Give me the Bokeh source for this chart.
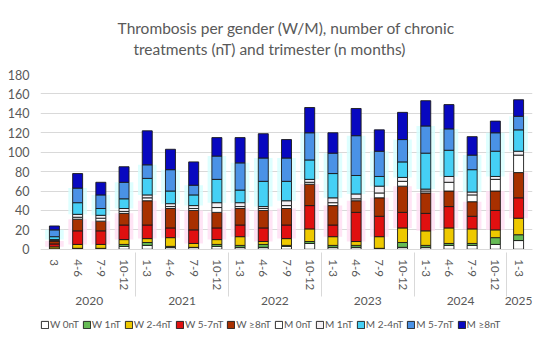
from bokeh.plotting import figure
from bokeh.models import FactorRange, Title, Legend, LegendItem, ColumnDataSource, FixedTicker
from bokeh.embed import file_html
from bokeh.resources import INLINE

years = ["2020"] * 4 + ["2021"] * 4 + ["2022"] * 4 + ["2023"] * 4 + ["2024"] * 4 + ["2025"]
quarters = ["3", "4-6", "7-9", "10-12",
            "1-3", "4-6", "7-9", "10-12",
            "1-3", "4-6", "7-9", "10-12",
            "1-3", "4-6", "7-9", "10-12",
            "1-3", "4-6", "7-9", "10-12",
            "1-3"]
y_ticks = [0, 20, 40, 60, 80, 100, 120, 140, 160, 180]

series_labels = ["W 0nT", "W 1nT", "W 2-4nT", "W 5-7nT", "W \u22658nT",
                 "M 0nT", "M 1nT", "M 2-4nT", "M 5-7nT", "M \u22658nT"]
series_keys = ["w0", "w1", "w24", "w57", "w8", "m0", "m1", "m24", "m57", "m8"]

w0 = [0.5, 1, 1, 3, 4, 2, 2, 3, 2, 2, 3, 6, 2, 2, 1, 2, 2, 4, 4, 5, 9]
w1 = [0, 0, 0, 2, 3, 1, 0, 2, 2, 3, 1, 2, 2, 2, 0, 5, 2, 2, 2, 7, 6]
w24 = [2, 4, 4, 5, 4, 9, 4, 5, 9, 3, 7, 13, 9, 4, 12, 15, 15, 16, 15, 8, 17]
w57 = [3, 14, 14, 15, 14, 10, 14, 12, 12, 14, 14, 24, 12, 30, 21, 16, 18, 22, 13, 20, 21]
w8 = [3, 12, 10, 12, 25, 20, 20, 16, 17, 18, 17, 22, 20, 12, 19, 27, 21, 16, 15, 20, 26]
m0 = [0.5, 2, 3, 2, 3, 2, 2, 5, 2, 2, 3, 2, 3, 2, 5, 5, 2, 9, 7, 12, 18]
m1 = [1, 3, 3, 3, 3, 3, 3, 5, 4, 2, 5, 3, 5, 5, 7, 4, 2, 6, 3, 3, 4]
m24 = [3, 12, 7, 10, 17, 13, 11, 24, 13, 26, 20, 20, 25, 19, 10, 16, 37, 27, 23, 26, 22]
m57 = [7, 15, 14, 17, 14, 22, 10, 24, 28, 24, 24, 28, 21, 41, 26, 23, 28, 22, 15, 19, 14]
m8 = [4, 15, 13, 16, 35, 21, 24, 19, 26, 25, 19, 26, 21, 28, 22, 28, 26, 25, 19, 12, 17]

colors = ["#FFFFFF", "#66BB55", "#EEC900", "#E01010", "#A83000",
          "#FFFFFF", "#F4F0F4", "#45D0F5", "#4A92E6", "#0808C0"]

factors = list(zip(years, quarters))
data = dict(x=factors, w0=w0, w1=w1, w24=w24, w57=w57, w8=w8,
            m0=m0, m1=m1, m24=m24, m57=m57, m8=m8)
n = len(factors)
wlow = [w0[i] + w1[i] + w24[i] for i in range(n)]
whigh = [wlow[i] + w57[i] + w8[i] for i in range(n)]
mlow = [whigh[i] + m0[i] + m1[i] for i in range(n)]
mhigh = [mlow[i] + m24[i] + m57[i] for i in range(n)]
data.update(wlow=wlow, whigh=whigh, mlow=mlow, mhigh=mhigh)
source = ColumnDataSource(data=data)

FONT = "Lato"
GREY = "#595959"

# frame extends below zero so that the category axis and legend sit inside it
p = figure(x_range=FactorRange(*factors, factor_padding=0, group_padding=0, subgroup_padding=0,
                               range_padding=0.1, range_padding_units="absolute"),
           y_range=(-92.9, 180), frame_width=492, frame_height=265,
           output_backend="svg", toolbar_location=None,
           min_border_left=40, min_border_right=16, min_border_top=73, min_border_bottom=6)
p.outline_line_color = None
p.background_fill_color = "white"
p.border_fill_color = "white"

# glow effects
p.vbar(x="x", bottom="wlow", top="whigh", width=0.8, source=source,
       fill_color="#FFDDF3", line_color=None, fill_alpha=0.8)
p.vbar(x="x", bottom="mlow", top="mhigh", width=0.8, source=source,
       fill_color="#D6FFFF", line_color=None, fill_alpha=0.8)

renderers = p.vbar_stack(series_keys, x="x", width=0.43, source=source,
                         fill_color=colors, line_color="#1A1A1A", line_width=0.9)

# y axis
p.yaxis.ticker = FixedTicker(ticks=y_ticks)
p.yaxis.axis_line_color = None
p.yaxis.major_tick_line_color = None
p.yaxis.minor_tick_line_color = None
p.yaxis.major_label_text_font = FONT
p.yaxis.major_label_text_font_size = "12.5px"
p.yaxis.major_label_text_color = GREY
p.yaxis.major_label_standoff = 5
p.ygrid.grid_line_color = "#D9D9D9"
p.xgrid.grid_line_color = None

# x axis (at y = 0)
p.xaxis.fixed_location = 0
p.xaxis.axis_line_color = "#D9D9D9"
p.xaxis.major_tick_line_color = None
p.xaxis.minor_tick_line_color = None
p.xaxis.major_label_orientation = "vertical"
p.xaxis.major_label_standoff = 4
p.xaxis.major_label_text_font = FONT
p.xaxis.major_label_text_font_size = "11.5px"
p.xaxis.major_label_text_color = GREY
p.xaxis.group_text_font = FONT
p.xaxis.group_text_font_size = "12px"
p.xaxis.group_text_color = GREY
p.xaxis.group_text_font_style = "normal"
p.xaxis.separator_line_color = "#D9D9D9"
p.xaxis.separator_line_width = 1

# legend (one row, at the bottom of the frame)
items = [LegendItem(label=lab, renderers=[r]) for lab, r in zip(series_labels, renderers)]
legend = Legend(items=items, orientation="horizontal", location=(0, 9), nrows=1,
                label_text_font=FONT, label_text_font_size="10px", label_text_color=GREY,
                glyph_width=9, glyph_height=9, label_height=12, spacing=3, label_standoff=1,
                border_line_color=None, padding=0, margin=0, background_fill_alpha=0)
p.add_layout(legend)

# title (two lines)
title = Title(text="Thrombosis per gender (W/M), number of chronic\n\u00a0\u00a0\u00a0\u00a0treatments (nT) and trimester (n months)",
              align="center", offset=0,
              text_font=FONT, text_font_size="15.5px", text_color=GREY,
              text_font_style="normal", text_line_height=1.2, standoff=32)
p.add_layout(title, "above")

open("out.html", "w").write(file_html(p, INLINE))
